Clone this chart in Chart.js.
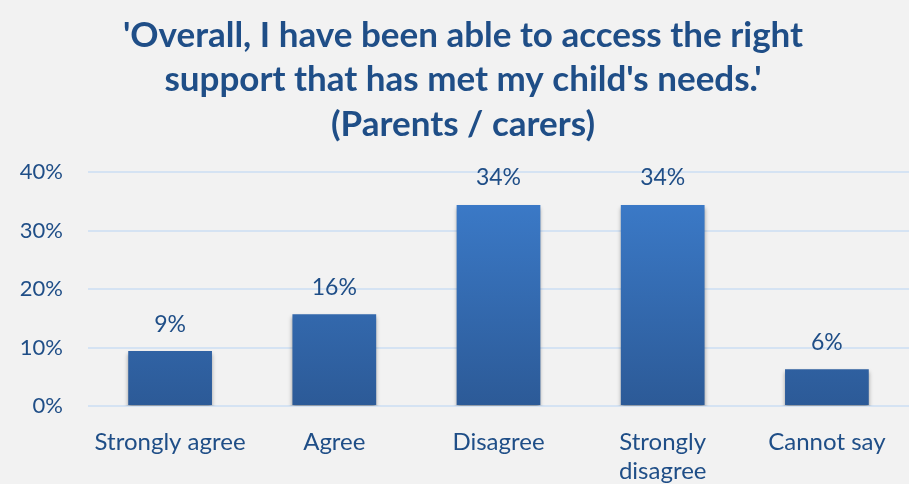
<!DOCTYPE html>
<html>
<head>
<meta charset="utf-8">
<script src="https://cdn.jsdelivr.net/npm/chart.js@4"></script>
<style>
html,body{margin:0;padding:0;background:#f2f2f2;}
#wrap{width:909px;height:484px;position:relative;}
</style>
</head>
<body>
<div id="wrap"><canvas id="c" width="909" height="484"></canvas></div>
<script>
const categories = ['Strongly agree', 'Agree', 'Disagree', ['Strongly', 'disagree'], 'Cannot say'];
const values = [0.094, 0.157, 0.344, 0.344, 0.063];
const valueLabels = ['9%', '16%', '34%', '34%', '6%'];
const yTicks = [0, 0.1, 0.2, 0.3, 0.4];
const titleLines = ["'Overall, I have been able to access the right", "support that has met my child's needs.'", "(Parents / carers)"];

const textColor = '#1f4e87';
const fontFam = 'Lato, "Open Sans", sans-serif';

const bgPlugin = {
  id: 'bg',
  beforeDraw(chart) {
    const ctx = chart.ctx;
    ctx.save();
    ctx.fillStyle = '#f2f2f2';
    ctx.fillRect(0, 0, chart.width, chart.height);
    ctx.restore();
  }
};

const shadowPlugin = {
  id: 'shadow',
  beforeDatasetDraw(chart) {
    const ctx = chart.ctx;
    ctx.save();
    ctx.shadowColor = 'rgba(0,0,0,0.35)';
    ctx.shadowBlur = 4;
    ctx.shadowOffsetY = 3;
  },
  afterDatasetDraw(chart) {
    chart.ctx.restore();
  }
};

const labelPlugin = {
  id: 'vlabels',
  afterDatasetsDraw(chart) {
    const ctx = chart.ctx;
    const meta = chart.getDatasetMeta(0);
    ctx.save();
    ctx.fillStyle = textColor;
    ctx.font = '23px ' + fontFam;
    ctx.textAlign = 'center';
    ctx.textBaseline = 'middle';
    meta.data.forEach((bar, i) => {
      ctx.fillText(valueLabels[i], bar.x, bar.y - 27);
    });
    ctx.restore();
  }
};

new Chart(document.getElementById('c'), {
  type: 'bar',
  data: {
    labels: categories,
    datasets: [{
      data: values,
      backgroundColor(context) {
        const chart = context.chart;
        const area = chart.chartArea;
        if (!area) return '#3a78c6';
        const g = chart.ctx.createLinearGradient(0, area.top, 0, area.bottom);
        g.addColorStop(0, '#3d7ece');
        g.addColorStop(1, '#2c5a97');
        return g;
      },
      borderWidth: 0,
      barPercentage: 0.51,
      categoryPercentage: 1.0
    }]
  },
  options: {
    responsive: false,
    animation: false,
    devicePixelRatio: 1,
    layout: { padding: { left: 17, right: 0, top: 0, bottom: 0 } },
    plugins: {
      legend: { display: false },
      tooltip: { enabled: false },
      title: {
        display: true,
        text: titleLines,
        color: textColor,
        font: { family: fontFam, size: 35, weight: 'bold', lineHeight: 1.26 },
        padding: { top: 14, bottom: 26 }
      }
    },
    scales: {
      x: {
        grid: { display: false },
        border: { display: false },
        afterFit(scale) { scale.height = 78; },
        ticks: {
          color: textColor,
          font: { family: fontFam, size: 24, lineHeight: 1.2 },
          maxRotation: 0,
          autoSkip: false,
          padding: 14
        }
      },
      y: {
        min: 0,
        max: 0.4,
        afterBuildTicks(axis) { axis.ticks = yTicks.map(v => ({ value: v })); },
        afterFit(scale) { scale.width = 71; },
        grid: { color: '#d5e3f3', lineWidth: 2, drawTicks: false },
        border: { display: false },
        ticks: {
          color: textColor,
          font: { family: fontFam, size: 22 },
          padding: 25,
          callback: v => Math.round(v * 100) + '%'
        }
      }
    }
  },
  plugins: [bgPlugin, shadowPlugin, labelPlugin]
});
</script>
</body>
</html>
